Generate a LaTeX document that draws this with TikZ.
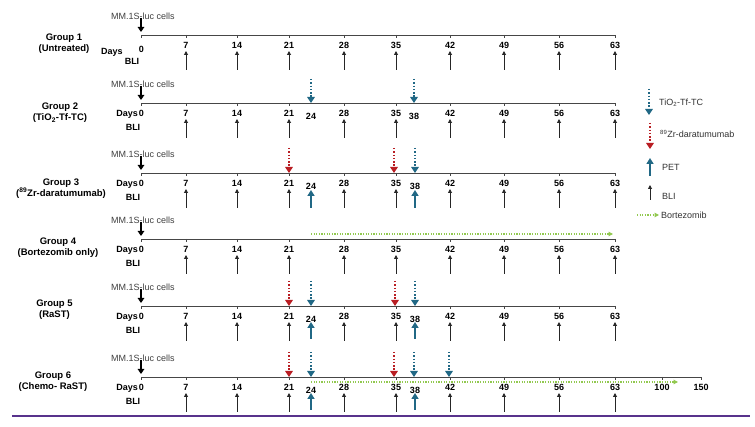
\documentclass[tikz,border=0pt]{standalone}
\usepackage{fontspec}
\setmainfont{Liberation Sans}
\usetikzlibrary{arrows.meta}
\definecolor{tealc}{RGB}{33,104,133}
\definecolor{redc}{RGB}{185,30,35}
\definecolor{greenc}{RGB}{146,201,80}
\definecolor{purpc}{RGB}{88,50,140}
\definecolor{axc}{RGB}{70,70,70}
\tikzset{
  axisline/.style={draw=axc, line width=0.9pt},
  num/.style={font=\bfseries\fontsize{9}{10}\selectfont, inner sep=0pt},
  glabel/.style={font=\bfseries\fontsize{9.5}{11}\selectfont, align=center, inner sep=0pt},
  cellstxt/.style={font=\fontsize{9}{10}\selectfont, text=black!75, inner sep=0pt},
  daystxt/.style={font=\bfseries\fontsize{9}{10}\selectfont, inner sep=0pt},
  legtxt/.style={font=\fontsize{9}{10}\selectfont, text=black!80, anchor=west, inner sep=0pt},
  bliarrow/.style={draw=black!85, line width=0.9pt, -{Triangle[length=4pt,width=4pt]}},
  petarrow/.style={draw=tealc, line width=2.2pt, -{Triangle[length=6pt,width=7pt]}},
  cellarrow/.style={draw=black, line width=1.7pt, -{Triangle[length=5pt,width=6.5pt]}},
  tinj/.style={draw=tealc, line width=2pt, dash pattern=on 1.5pt off 1.8pt, -{Triangle[length=6pt,width=7.5pt]}},
  zinj/.style={draw=redc, line width=2pt, dash pattern=on 1.5pt off 1.8pt, -{Triangle[length=6pt,width=7.5pt]}},
  bort/.style={draw=greenc, line width=1.1pt, dash pattern=on 1.2pt off 1.4pt, -{Triangle[length=4.5pt,width=4.5pt]}},
}
\newcommand\basegroup[5]{% #1 id, #2 axis y, #3 label x, #4 label y, #5 label text
  \node[glabel] (#1lab) at (#3,#4) {#5};
  \node[cellstxt] (#1cells) at (143,#2-19) {MM.1S-luc cells};
  \coordinate (#1cin) at (141,#2-3);
  \draw[cellarrow] (141,#2-17) -- (#1cin);
  \foreach \d/\x in {7/186,14/237,21/289,28/344,35/396,42/450,49/504,56/559,63/615}{
    \draw[axisline] (\x,#2) -- (\x,#2+3);
    \node[num] (#1n\d) at (\x,#2+10) {\d};
    \draw[bliarrow] (\x,#2+35) -- (\x,#2+16);
  }
}
\newcommand\daysbli[2]{% #1 id, #2 axis y
  \node[daystxt, anchor=east] (#1days) at (138,#2+11) {Days};
  \node[num] (#1n0) at (141.5,#2+10) {0};
  \node[daystxt] (#1bli) at (133,#2+24) {BLI};
}
\begin{document}
\begin{tikzpicture}[x=1pt,y=-1pt]
\useasboundingbox[fill=white] (0,0) rectangle (755,427);

% ---------------- Group 1
\basegroup{ga}{35}{64}{43.5}{Group 1\\(Untreated)}
\draw[axisline] (141,38) -- (141,35) -- (615,35) -- (615,38);
\node[daystxt] (gadays) at (112,52) {Days};
\node[num] (gan0) at (141.5,49) {0};
\node[daystxt] (gabli) at (132,61) {BLI};

% ---------------- Group 2
\basegroup{gb}{103}{60}{113}{Group 2\\(TiO\textsubscript{2}-Tf-TC)}
\draw[axisline] (141,106) -- (141,103) -- (615,103) -- (615,106);
\daysbli{gb}{103}
\node[num] (gb24) at (311,116) {24};
\node[num] (gb38) at (414,116) {38};
\draw[tinj] (311,79) -- (311,103);
\draw[tinj] (414,79) -- (414,103);

% ---------------- Group 3
\basegroup{gc}{173}{61}{188.5}{Group 3\\(\textsuperscript{89}Zr-daratumumab)}
\draw[axisline] (141,176) -- (141,173) -- (615,173) -- (615,176);
\daysbli{gc}{173}
\node[num] (gc24) at (311,186) {24};
\node[num] (gc38) at (415,186) {38};
\draw[zinj] (289,148) -- (289,173);
\draw[zinj] (394,148) -- (394,173);
\draw[tinj] (415,148) -- (415,173);
\draw[petarrow] (311,208) -- (311,190);
\draw[petarrow] (415,208) -- (415,190);

% ---------------- Group 4
\basegroup{gd}{239}{58}{247.5}{Group 4\\(Bortezomib only)}
\draw[axisline] (141,242) -- (141,239) -- (615,239) -- (615,242);
\daysbli{gd}{239}
\draw[bort] (311,234) -- (613,234);

% ---------------- Group 5
\basegroup{ge}{306}{54.5}{310}{Group 5\\(RaST)}
\draw[axisline] (141,309) -- (141,306) -- (615,306) -- (615,309);
\daysbli{ge}{306}
\node[num] (ge24) at (311,319) {24};
\node[num] (ge38) at (415,319) {38};
\draw[zinj] (289,281) -- (289,306);
\draw[zinj] (395,281) -- (395,306);
\draw[tinj] (311,281) -- (311,306);
\draw[tinj] (415,281) -- (415,306);
\draw[petarrow] (311,339) -- (311,322);
\draw[petarrow] (415,339) -- (415,322);

% ---------------- Group 6
\basegroup{gf}{377}{53}{381.5}{Group 6\\(Chemo- RaST)}
\draw[axisline] (141,380) -- (141,377) -- (701,377) -- (701,380);
\draw[axisline] (662,377) -- (662,380);
\daysbli{gf}{377}
\node[num] (gf100) at (662,387.5) {100};
\node[num] (gf150) at (701,387.5) {150};
\node[num] (gf24) at (311,390) {24};
\node[num] (gf38) at (415,390) {38};
\draw[zinj] (289,352) -- (289,377);
\draw[zinj] (394,352) -- (394,377);
\draw[tinj] (311,352) -- (311,377);
\draw[tinj] (414,352) -- (414,377);
\draw[tinj] (449,352) -- (449,377);
\draw[bort] (311,382) -- (678,382);
\draw[petarrow] (311,410) -- (311,393);
\draw[petarrow] (415,410) -- (415,393);

% ---------------- bottom rule
\draw[draw=purpc, line width=1.2pt] (12,416) -- (750,416);

% ---------------- legend
\draw[tinj] (649,89) -- (649,115);
\node[legtxt] (legt) at (659,103) {TiO\textsubscript{2}-Tf-TC};
\draw[zinj] (650,123) -- (650,149);
\node[legtxt] (legz) at (660,134) {\textsuperscript{89}Zr-daratumumab};
\draw[petarrow] (650,176) -- (650,158);
\node[legtxt] (legp) at (662,167.5) {PET};
\draw[bliarrow] (650,200) -- (650,185);
\node[legtxt] (legb) at (662,196) {BLI};
\draw[bort] (637,215) -- (659,215);
\node[legtxt] (legbz) at (661,215) {Bortezomib};
\end{tikzpicture}
\end{document}
